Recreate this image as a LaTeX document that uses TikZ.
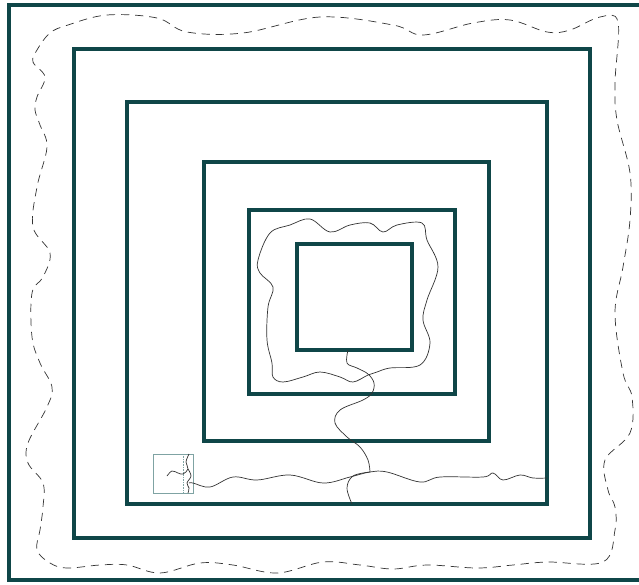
\documentclass[tikz,border=0pt]{standalone}
\usepackage{xcolor}
\usepackage{tikz}
\definecolor{wallteal}{HTML}{0F4648}
\definecolor{boxteal}{HTML}{7FA3A3}

\begin{document}
\begin{tikzpicture}[
    x=0.03cm, y=-0.03cm,
    wall/.style={draw=wallteal, line width=3pt},
    trail/.style={draw=black!80, line width=0.6pt},
    fence/.style={draw=black!80, line width=0.6pt, dash pattern=on 7pt off 5pt},
    smallbox/.style={draw=boxteal, line width=0.6pt}
  ]
    \clip (0,0) rectangle (639,585);
    % nested walls
    \foreach \n/\l/\t/\r/\b in {1/9/5/660/580, 2/74/49/590/538, 3/127/102/547/504,
                                4/204/162/489/441, 5/249/210/455/394, 6/297/244/412/350} {
      \draw[wall] (\l,\t) rectangle (\r,\b);
    }
    % dashed outline
    \draw[fence] plot[smooth cycle, tension=0.6] coordinates {
      (68,25) (107,15) (157,18) (187,32) (243,33) (320,17) (393,25) (423,35)
      (473,23) (510,20) (547,32) (570,30) (600,17) (618,22) (615,83) (617,120)
      (630,173) (630,220) (623,267) (615,313) (623,373) (632,397) (630,433)
      (605,460) (608,490) (615,507) (615,530) (603,562) (547,562) (513,565)
      (477,568) (427,565) (393,569) (360,565) (323,562) (277,573) (233,565)
      (200,563) (160,573) (127,565) (100,565) (67,568) (50,563) (37,550)
      (40,530) (43,507) (43,483) (28,463) (28,443) (47,407) (52,387) (40,363)
      (32,337) (32,293) (43,277) (50,253) (33,227) (37,187) (47,147) (40,125)
      (35,110) (37,97) (45,77) (33,62) (37,50) (50,33)};
    % small box
    \draw[smallbox] (153,454) rectangle (193,493);
    \draw[boxteal, line width=0.4pt, densely dotted] (183,454) -- (183,493);
    \coordinate (boxin) at (189,483);
    \coordinate (fork) at (370,472);
    \coordinate (gate) at (348,350);
    % trails
    \draw[trail] plot[smooth cycle, tension=0.6] coordinates {
      (368,375) (353,382) (340,377) (320,372) (303,377) (283,382) (273,377)
      (272,363) (267,340) (268,307) (273,287) (260,273) (258,260) (270,233)
      (290,225) (310,219) (330,232) (350,225) (370,223) (383,232) (397,225)
      (422,223) (427,240) (438,267) (427,300) (423,320) (430,343) (420,365)
      (390,368) (377,372)};
    \draw[trail] plot[smooth, tension=0.6] coordinates {
      (gate) (347,363) (357,368) (368,374) (374,383) (372,393) (363,400)
      (340,410) (335,423) (347,437) (360,447) (368,460) (fork)};
    \draw[trail] plot[smooth, tension=0.6] coordinates {
      (boxin) (193,483) (210,487) (233,477) (257,480) (290,475) (323,483)
      (350,477) (fork) (387,472) (420,482) (440,477) (483,477) (493,473)
      (503,480) (520,475) (533,478) (547,478)};
    \draw[trail] plot[smooth, tension=0.6] coordinates {
      (fork) (353,476) (347,488) (352,504)};
    \draw[trail] plot[smooth, tension=0.6] coordinates {
      (167,476) (172,471) (178,473) (183,474) (188,469) (186,462) (189,454)};
    \draw[trail] plot[smooth, tension=0.6] coordinates {
      (188,469) (191,476) (187,483) (189,488) (188,493)};
\end{tikzpicture}
\end{document}
